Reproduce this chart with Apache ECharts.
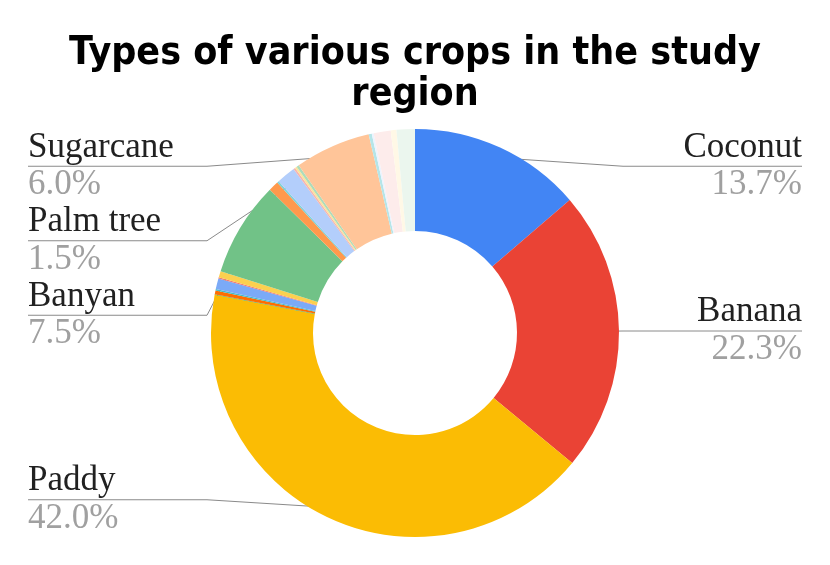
<!DOCTYPE html>
<html>
<head>
<meta charset="utf-8">
<title>Types of various crops in the study region</title>
<script src="https://cdn.jsdelivr.net/npm/echarts@6/dist/echarts.min.js"></script>
<style>
  html, body { margin: 0; padding: 0; background: #fff; }
  #chart { width: 830px; height: 565px; }
</style>
</head>
<body>
<div id="chart"></div>
<script>
// slice names, in drawing order (clockwise from 12 o'clock)
let crops = ['Coconut', 'Banana', 'Paddy', 'Other 4', 'Other 5', 'Other 6', 'Other 7', 'Other 8', 'Other 9',
    'Banyan', 'Other 11', 'Other 12', 'Palm tree', 'Other 14', 'Other 15', 'Other 16',
    'Sugarcane', 'Other 18', 'Other 19', 'Other 20', 'Other 21', 'Other 22'];
// share of each crop (%)
let shares = [13.7, 22.3, 42.0, 0.05, 0.3, 0.1, 0.85, 0.1, 0.5,
    7.5, 0.8, 0.15, 1.5, 0.15, 0.15, 0.2,
    6.0, 0.25, 0.15, 1.35, 0.45, 1.45];
// which slices get an outside label
let labelled = ['Coconut', 'Banana', 'Paddy', 'Banyan', 'Palm tree', 'Sugarcane'];
let colors = ['#4285f4', '#ea4335', '#fbbc04', '#34a853', '#ff6d01', '#46bdc6', '#7baaf7', '#f07b72', '#fcd04f',
    '#71c287', '#ff994d', '#7ed1d7', '#b3cefb', '#f7b4ae', '#fde49b', '#aedcba',
    '#ffc599', '#b5e5e8', '#ecf3fe', '#fdeceb', '#fff8e6', '#ebf6ee'];

let myChart = echarts.init(document.getElementById('chart'));

let pieTop = 129, pieBottom = 28, outerR = 204, innerR = 102;
let serif = '"Liberation Serif", "DejaVu Serif", serif';

let pieData = crops.map(function (name, i) {
    let show = labelled.indexOf(name) > -1;
    return {
        name: name,
        value: shares[i],
        label: { show: show },
        labelLine: { show: show }
    };
});

let option = {
    backgroundColor: '#fff',
    color: colors,
    title: {
        text: 'Types of various crops in the study\nregion',
        left: 'center',
        top: 28,
        textStyle: {
            fontFamily: '"Liberation Sans Narrow", "DejaVu Sans Condensed", sans-serif',
            fontWeight: 'bold',
            fontSize: 39,
            lineHeight: 41,
            color: '#000'
        }
    },
    series: [
        {
            type: 'pie',
            top: pieTop,
            bottom: pieBottom,
            center: ['50%', '50%'],
            radius: [innerR, outerR],
            startAngle: 90,
            clockwise: true,
            percentPrecision: 1,
            avoidLabelOverlap: true,
            itemStyle: { borderWidth: 0 },
            emphasis: { disabled: true },
            label: {
                position: 'outer',
                alignTo: 'edge',
                edgeDistance: 28,
                distanceToLabelLine: 4,
                formatter: function (p) {
                    return '{n|' + p.name + '}\n{p|' + p.percent.toFixed(1) + '%}';
                },
                rich: {
                    n: { fontFamily: serif, fontSize: 35, lineHeight: 37.5, color: '#212121' },
                    p: { fontFamily: serif, fontSize: 35, lineHeight: 37.5, color: '#a0a0a0' }
                }
            },
            labelLine: {
                show: true,
                length: 8,
                length2: 4,
                lineStyle: { color: '#8a8a8a', width: 1 }
            },
            labelLayout: function (params) {
                let pts = params.labelLinePoints;
                if (!pts) {
                    return {};
                }
                let cx = myChart.getWidth() / 2;
                let cy = pieTop + (myChart.getHeight() - pieTop - pieBottom) / 2;
                let rect = params.labelRect;
                let isLeft = rect.x < cx;
                let midY = rect.y + rect.height / 2;
                // pull the start of the line a bit into the slice
                let k = (outerR - 11) / outerR;
                let start = [cx + (pts[0][0] - cx) * k, cy + (pts[0][1] - cy) * k];
                let bend = [isLeft ? cx - outerR - 4 : cx + outerR + 4, midY];
                let end = [isLeft ? rect.x : rect.x + rect.width, midY];
                return { labelLinePoints: [start, bend, end] };
            },
            data: pieData
        }
    ]
};
myChart.setOption(option);
</script>
</body>
</html>
